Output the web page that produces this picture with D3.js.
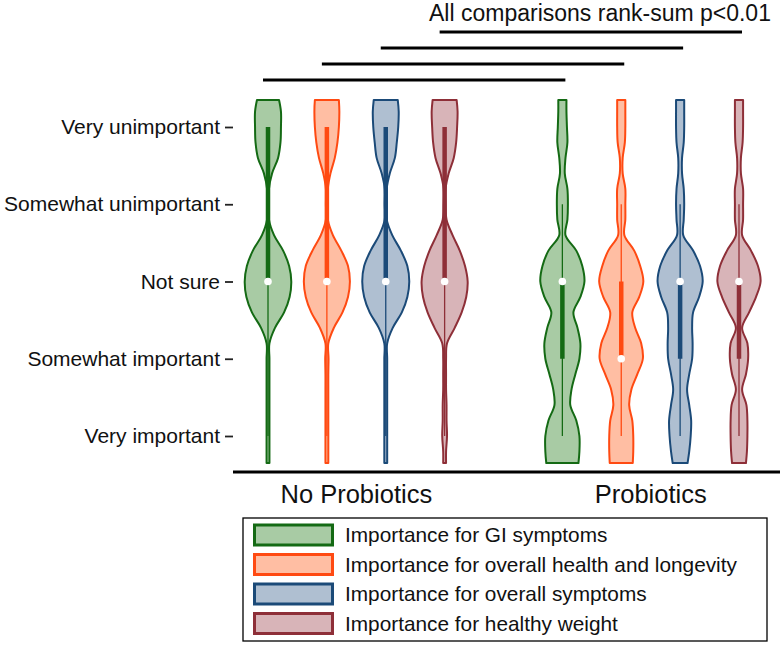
<!DOCTYPE html>
<html>
<head>
<meta charset="utf-8">
<script src="https://cdn.jsdelivr.net/npm/d3@7"></script>
<style>
    body { margin: 0; background: #fff; }
    svg { display: block; font-family: "Liberation Sans", Arial, sans-serif; }
</style>
</head>
<body>
<svg id="chart"></svg>
<script>
// response levels (1 = very unimportant ... 5 = very important)
const levels = ["Very unimportant", "Somewhat unimportant", "Not sure", "Somewhat important", "Very important"];
const groups = ["No Probiotics", "Probiotics"];
const series = [
    "Importance for GI symptoms",
    "Importance for overall health and longevity",
    "Importance for overall symptoms",
    "Importance for healthy weight"
];
const title = "All comparisons rank-sum p<0.01";

// kernel density grid (in level units) and estimated densities per violin
const densityGrid = [0.65, 0.8, 1.0, 1.2, 1.4, 1.6, 1.8, 2.0, 2.2, 2.4, 2.6, 2.8, 3.0, 3.2, 3.4, 3.6, 3.8, 4.0, 4.2, 4.4, 4.6, 4.8, 5.0, 5.2, 5.35];

const noProbGI      = [0.46, 0.54, 0.54, 0.52, 0.42, 0.17, 0.04, 0.04, 0.04, 0.25, 0.63, 0.88, 0.97, 0.90, 0.67, 0.29, 0.06, 0.06, 0.06, 0.06, 0.06, 0.06, 0.06, 0.06, 0.06];
const noProbHealth  = [0.50, 0.52, 0.50, 0.44, 0.33, 0.15, 0.04, 0.04, 0.04, 0.25, 0.60, 0.88, 0.96, 0.88, 0.65, 0.29, 0.06, 0.07, 0.06, 0.06, 0.06, 0.06, 0.06, 0.06, 0.06];
const noProbOverall = [0.50, 0.54, 0.52, 0.46, 0.38, 0.17, 0.04, 0.04, 0.04, 0.27, 0.63, 0.90, 0.98, 0.90, 0.67, 0.29, 0.06, 0.06, 0.06, 0.06, 0.06, 0.06, 0.06, 0.06, 0.06];
const noProbWeight  = [0.50, 0.54, 0.52, 0.48, 0.38, 0.17, 0.04, 0.04, 0.08, 0.33, 0.63, 0.85, 0.96, 0.90, 0.71, 0.42, 0.10, 0.06, 0.06, 0.06, 0.08, 0.08, 0.10, 0.06, 0.06];

const probGI      = [0.17, 0.17, 0.19, 0.21, 0.13, 0.10, 0.21, 0.23, 0.21, 0.13, 0.58, 0.83, 0.92, 0.75, 0.46, 0.63, 0.75, 0.71, 0.54, 0.38, 0.33, 0.58, 0.71, 0.71, 0.67];
const probHealth  = [0.17, 0.17, 0.17, 0.15, 0.06, 0.06, 0.17, 0.17, 0.17, 0.13, 0.54, 0.79, 0.92, 0.75, 0.46, 0.58, 0.83, 0.90, 0.67, 0.42, 0.33, 0.46, 0.50, 0.50, 0.48];
const probOverall = [0.17, 0.17, 0.17, 0.15, 0.08, 0.08, 0.15, 0.17, 0.15, 0.13, 0.54, 0.83, 0.94, 0.79, 0.54, 0.50, 0.52, 0.50, 0.38, 0.29, 0.38, 0.46, 0.44, 0.38, 0.31];
const probWeight  = [0.17, 0.17, 0.17, 0.15, 0.08, 0.08, 0.17, 0.17, 0.17, 0.13, 0.50, 0.79, 0.90, 0.71, 0.42, 0.13, 0.35, 0.38, 0.29, 0.13, 0.31, 0.35, 0.35, 0.33, 0.29];

// box stats: [lower adjacent, q1, median, q3, upper adjacent]
const noProbBox = [1, 1, 3, 3, 5];
const probGIBox      = [2, 3, 3, 4, 5];
const probHealthBox  = [2, 3, 4, 4, 5];
const probOverallBox = [2, 3, 3, 4, 5];
const probWeightBox  = [2, 3, 3, 4, 5];

const strokeColors = ["#146a14", "#ff4a12", "#1b4a78", "#8e2f38"];
const fillColors = ["#a8cba4", "#ffbea3", "#afbfd1", "#d8b4b8"];

class ViolinChart {
    constructor(config, data) {
        this.config = {
            parent: config.parent,
            width: config.width || 780,
            height: config.height || 648
        };
        this.data = data;
        this.init();
    }

    init() {
        let self = this;

        self.svg = d3.select(self.config.parent)
            .attr('width', self.config.width)
            .attr('height', self.config.height);

        // slot index: group * 5 + series (one empty slot between groups)
        self.xscale = d3.scaleLinear().domain([0, 8]).range([268, 739]);
        self.yscale = d3.scaleLinear().domain([1, 5]).range([127, 436]);
        self.wscale = d3.scaleLinear().domain([0, 1]).range([0, 24]);

        self.render();
    }

    render() {
        let self = this;
        const svg = self.svg;

        // title and comparison bars
        svg.append('text')
            .attr('x', 429)
            .attr('y', 21)
            .attr('font-size', 23)
            .attr('fill', '#111')
            .text(title);

        const compY = d3.scaleLinear().domain([0, 3]).range([80, 32]);
        svg.selectAll('.comp')
            .data(series)
            .join('line')
            .attr('class', 'comp')
            .attr('x1', (d, i) => self.xscale(i) - 5)
            .attr('x2', (d, i) => self.xscale(5 + i) + 3)
            .attr('y1', (d, i) => compY(i))
            .attr('y2', (d, i) => compY(i))
            .attr('stroke', '#000')
            .attr('stroke-width', 3);

        // y axis: tick marks and labels
        const yaxis = d3.axisLeft(self.yscale)
            .tickValues([1, 2, 3, 4, 5])
            .tickFormat(d => levels[d - 1])
            .tickSize(8)
            .tickPadding(5);
        const yg = svg.append('g')
            .attr('transform', 'translate(233,0)')
            .call(yaxis);
        yg.select('.domain').remove();
        yg.selectAll('.tick line').attr('stroke', '#222').attr('stroke-width', 1.8);
        yg.selectAll('.tick text')
            .attr('font-size', 21)
            .attr('font-family', '"Liberation Sans", Arial, sans-serif')
            .attr('fill', '#111');

        // violins
        const area = d3.area()
            .y(d => self.yscale(d.y))
            .x0(d => d.cx - self.wscale(d.w))
            .x1(d => d.cx + self.wscale(d.w))
            .curve(d3.curveCatmullRom.alpha(0.5));

        const violins = svg.selectAll('.violin')
            .data(self.data)
            .join('g')
            .attr('class', 'violin');

        violins.append('path')
            .attr('d', d => {
                const cx = self.xscale(d.group * 5 + d.series);
                return area(densityGrid.map((y, i) => ({ y: y, w: d.density[i], cx: cx })));
            })
            .attr('fill', d => fillColors[d.series])
            .attr('stroke', d => strokeColors[d.series])
            .attr('stroke-width', 2)
            .attr('stroke-linejoin', 'round');

        // whiskers
        violins.append('line')
            .attr('x1', d => self.xscale(d.group * 5 + d.series))
            .attr('x2', d => self.xscale(d.group * 5 + d.series))
            .attr('y1', d => self.yscale(d.box[0]))
            .attr('y2', d => self.yscale(d.box[4]))
            .attr('stroke', d => strokeColors[d.series])
            .attr('stroke-width', 1.3);

        // interquartile bar
        violins.append('line')
            .attr('x1', d => self.xscale(d.group * 5 + d.series))
            .attr('x2', d => self.xscale(d.group * 5 + d.series))
            .attr('y1', d => self.yscale(d.box[1]))
            .attr('y2', d => self.yscale(d.box[3]))
            .attr('stroke', d => strokeColors[d.series])
            .attr('stroke-width', 4.5);

        // median marker
        violins.append('circle')
            .attr('cx', d => self.xscale(d.group * 5 + d.series))
            .attr('cy', d => self.yscale(d.box[2]))
            .attr('r', 3.8)
            .attr('fill', '#fff');

        // baseline + group labels
        svg.append('line')
            .attr('x1', 233).attr('x2', 780)
            .attr('y1', 472).attr('y2', 472)
            .attr('stroke', '#000')
            .attr('stroke-width', 3);

        svg.selectAll('.group-label')
            .data(groups)
            .join('text')
            .attr('class', 'group-label')
            .attr('x', (d, i) => self.xscale(i * 5 + 1.5))
            .attr('y', 503)
            .attr('text-anchor', 'middle')
            .attr('font-size', 25.5)
            .attr('fill', '#111')
            .text(d => d);

        // legend
        const legend = svg.append('g').attr('transform', 'translate(243,518)');
        legend.append('rect')
            .attr('width', 524)
            .attr('height', 123)
            .attr('fill', '#fff')
            .attr('stroke', '#000')
            .attr('stroke-width', 1.3);

        const item = legend.selectAll('.item')
            .data(series)
            .join('g')
            .attr('class', 'item')
            .attr('transform', (d, i) => `translate(0, ${7 + i * 29.5})`);

        item.append('rect')
            .attr('x', 11.5)
            .attr('y', 0)
            .attr('width', 78)
            .attr('height', 20)
            .attr('fill', (d, i) => fillColors[i])
            .attr('stroke', (d, i) => strokeColors[i])
            .attr('stroke-width', 3);

        item.append('text')
            .attr('x', 102)
            .attr('y', 17)
            .attr('font-size', 20.8)
            .attr('fill', '#111')
            .text(d => d);
    }
}

const violinData = [
    { group: 0, series: 0, density: noProbGI, box: noProbBox },
    { group: 0, series: 1, density: noProbHealth, box: noProbBox },
    { group: 0, series: 2, density: noProbOverall, box: noProbBox },
    { group: 0, series: 3, density: noProbWeight, box: noProbBox },
    { group: 1, series: 0, density: probGI, box: probGIBox },
    { group: 1, series: 1, density: probHealth, box: probHealthBox },
    { group: 1, series: 2, density: probOverall, box: probOverallBox },
    { group: 1, series: 3, density: probWeight, box: probWeightBox }
];

new ViolinChart({ parent: '#chart', width: 780, height: 648 }, violinData);
</script>
</body>
</html>
